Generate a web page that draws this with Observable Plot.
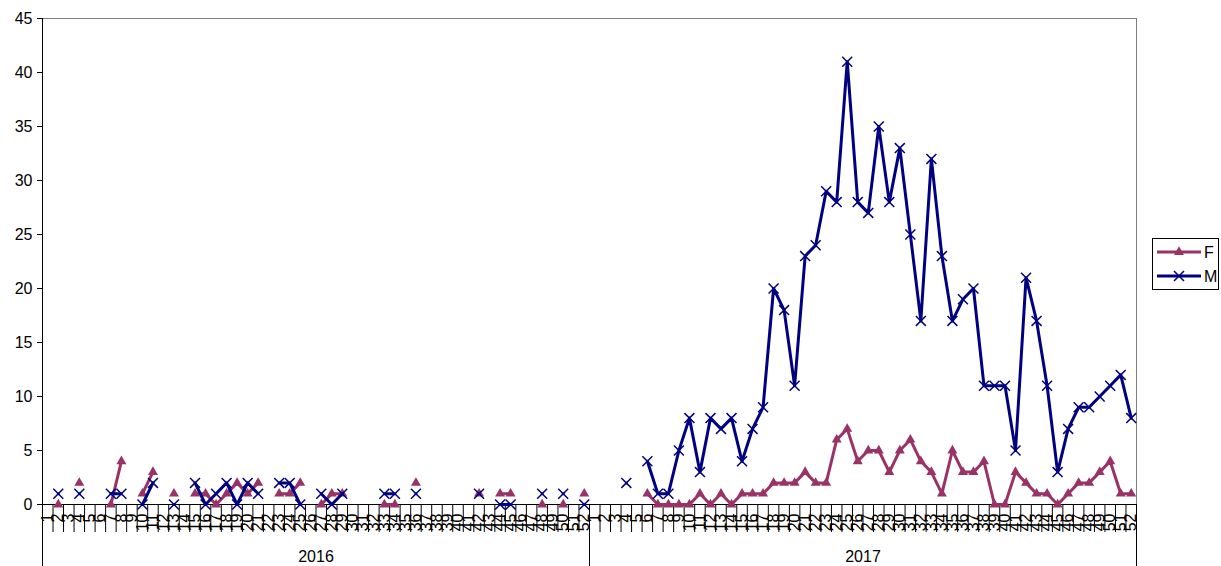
<!DOCTYPE html>
<html><head><meta charset="utf-8">
<script src="https://cdn.jsdelivr.net/npm/d3@7"></script>
<script src="https://cdn.jsdelivr.net/npm/@observablehq/plot@0.6"></script>
<style>
body{margin:0;background:#fff;font-family:"Liberation Sans",Arial,sans-serif;}
#wrap{position:relative;width:1221px;height:566px;}
#legend{position:absolute;left:1152px;top:238px;width:67px;height:52px;border:1px solid #000;background:#fff;box-sizing:border-box;}
</style></head><body><div id="wrap"></div>
<script>
const years = ["2016", "2017"];
const weekLabels = [1,2,3,4,5,6,7,8,9,10,11,12,13,14,15,16,17,18,19,20,21,22,23,24,25,26,27,28,29,30,31,32,33,34,35,36,37,38,39,40,41,42,43,44,45,46,47,48,49,50,51,52];
const seriesNames = ["F", "M"];
const seriesColors = ["#993366", "#000080"];

const F2016 = [null,0,null,2,null,null,0,4,null,1,3,null,1,null,1,1,0,1,2,1,2,null,1,1,2,null,0,1,1,null,null,null,0,0,null,2,null,null,null,null,null,1,null,1,1,null,null,0,null,0,null,1];
const M2016 = [null,1,null,1,null,null,1,1,null,0,2,null,0,null,2,0,1,2,0,2,1,null,2,2,0,null,1,0,1,null,null,null,1,1,null,1,null,null,null,null,null,1,null,0,0,null,null,1,null,1,null,0];
const F2017 = [null,null,null,null,null,1,0,0,0,0,1,0,1,0,1,1,1,2,2,2,3,2,2,6,7,4,5,5,3,5,6,4,3,1,5,3,3,4,0,0,3,2,1,1,0,1,2,2,3,4,1,1];
const M2017 = [null,null,null,2,null,4,1,1,5,8,3,8,7,8,4,7,9,20,18,11,23,24,29,28,41,28,27,35,28,33,25,17,32,23,17,19,20,11,11,11,5,21,17,11,3,7,9,9,10,11,12,8];
const yTicks = [0,5,10,15,20,25,30,35,40,45];

const Fall = [F2016, F2017], Mall = [M2016, M2017];
const rows = [];
years.forEach((yr, k) => weekLabels.forEach((w, j) => {
  rows.push({i: k*52 + j, year: yr, week: w, F: Fall[k][j], M: Mall[k][j]});
}));
const n = rows.length;
const centers = rows.map(d => d.i);
const boundaries = d3.range(n + 1).map(v => v - 0.5);
const yearEdges = years.map((_, k) => k*52 - 0.5).concat([n - 0.5]);
const yearCenters = years.map((_, k) => k*52 + 25.5);
const FONT = "'Liberation Sans', Arial, sans-serif";

const chart = Plot.plot({
  width: 1221, height: 566,
  marginLeft: 42, marginRight: 85, marginTop: 18, marginBottom: 62,
  style: {fontFamily: FONT, fontSize: "16px", background: "white", color: "black"},
  x: {type: "linear", domain: [-0.5, n - 0.5], axis: null},
  y: {domain: [0, 45], axis: null},
  marks: [
    Plot.frame({stroke: "#808080"}),
    Plot.ruleY([0], {stroke: "black"}),
    Plot.ruleX([-0.5], {stroke: "black"}),
    Plot.axisY(yTicks, {tickSize: 5, tickPadding: 5, label: null, fontSize: 16}),
    Plot.axisX(boundaries, {tickSize: 28, tickFormat: () => "", label: null}),
    Plot.axisX(yearEdges, {tickSize: 62, tickFormat: () => "", label: null}),
    Plot.axisX(centers, {tickSize: 0, tickFormat: i => String(weekLabels[i % 52]), tickRotate: -90, textAnchor: "end", lineAnchor: "middle", tickPadding: 9, label: null, fontSize: 16}),
    Plot.axisX(yearCenters, {tickSize: 0, tickFormat: v => years[Math.floor(v / 52)], tickPadding: 46, label: null, fontSize: 16}),
    Plot.line(rows, {x: "i", y: "F", stroke: seriesColors[0], strokeWidth: 3}),
    Plot.dot(rows, {x: "i", y: "F", symbol: "triangle", fill: seriesColors[0], r: 3.7}),
    Plot.line(rows, {x: "i", y: "M", stroke: seriesColors[1], strokeWidth: 3}),
    Plot.dot(rows, {x: "i", y: "M", symbol: "times", stroke: seriesColors[1], strokeWidth: 1.5, r: 4.6})
  ]
});
const wrap = document.getElementById("wrap");
wrap.appendChild(chart);

// legend
const lg = document.createElement("div");
lg.id = "legend";
const ns = "http://www.w3.org/2000/svg";
const svg = document.createElementNS(ns, "svg");
svg.setAttribute("width", 65); svg.setAttribute("height", 50);
seriesNames.forEach((name, k) => {
  const cy = 13 + k * 24;
  const line = document.createElementNS(ns, "line");
  line.setAttribute("x1", 4); line.setAttribute("x2", 48); line.setAttribute("y1", cy); line.setAttribute("y2", cy);
  line.setAttribute("stroke", seriesColors[k]); line.setAttribute("stroke-width", 3);
  svg.appendChild(line);
  const p = document.createElementNS(ns, "path");
  const sym = k === 0 ? d3.symbol(d3.symbolTriangle, 43) : d3.symbol(d3.symbolTimes, 67);
  p.setAttribute("d", sym());
  p.setAttribute("transform", `translate(26,${cy})`);
  if (k === 0) p.setAttribute("fill", seriesColors[k]);
  else { p.setAttribute("fill", "none"); p.setAttribute("stroke", seriesColors[k]); p.setAttribute("stroke-width", 1.5); }
  svg.appendChild(p);
  const t = document.createElementNS(ns, "text");
  t.setAttribute("x", 51); t.setAttribute("y", cy); t.setAttribute("dy", "0.35em");
  t.setAttribute("font-size", 16); t.setAttribute("font-family", FONT);
  t.textContent = name;
  svg.appendChild(t);
});
lg.appendChild(svg);
wrap.appendChild(lg);
</script>
</body></html>
